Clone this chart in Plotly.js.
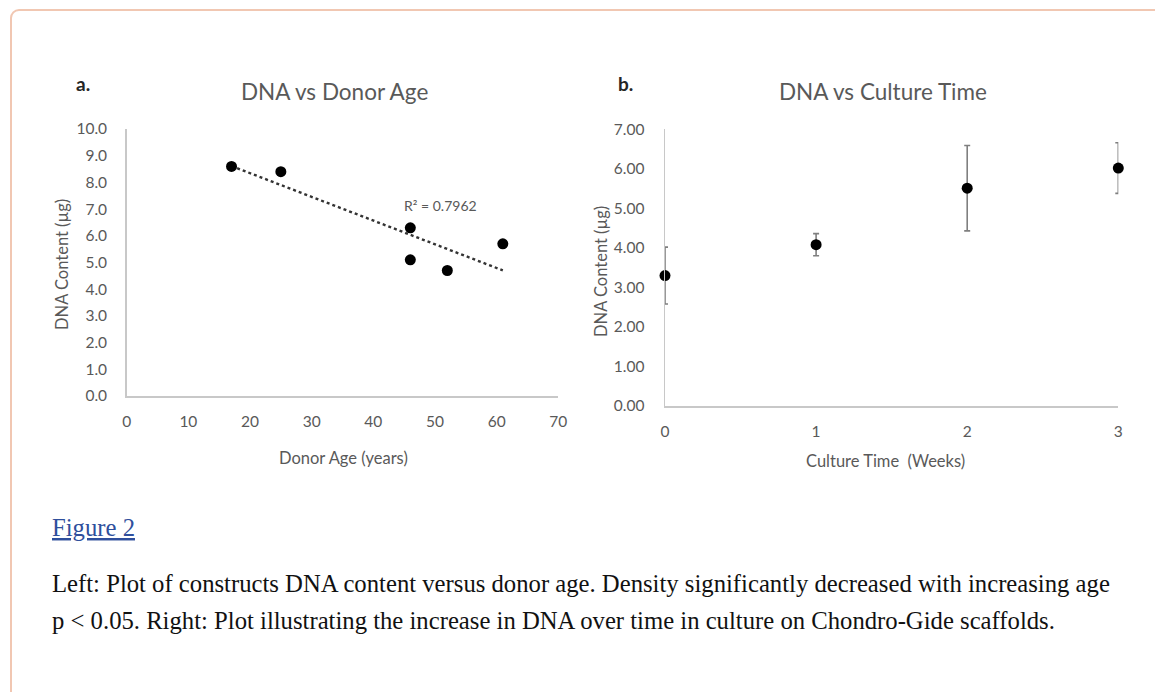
<!DOCTYPE html>
<html>
<head>
<meta charset="utf-8">
<script src="https://cdn.plot.ly/plotly-3.0.1.min.js"></script>
<style>
  html, body { margin: 0; padding: 0; width: 1155px; height: 692px; overflow: hidden; background: #ffffff; }
  #frame { position: absolute; left: 10px; top: 9px; width: 1200px; height: 800px;
           border: 2px solid #f1c7b2; border-radius: 9px; box-sizing: border-box; }
  #chart { position: absolute; left: 0; top: 0; width: 1155px; height: 692px; }
</style>
</head>
<body>
<div id="frame"></div>
<div id="chart"></div>
<script>
// ---- Panel a: DNA vs Donor Age ----
const donorAge = [17, 25, 46, 46, 52, 61];
const dnaByAge = [8.6, 8.4, 6.3, 5.1, 4.7, 5.7];
const r2Label = "R² = 0.7962";

// ---- Panel b: DNA vs Culture Time ----
const cultureWeeks = [0, 1, 2, 3];
const dnaByWeek = [3.3, 4.08, 5.51, 6.02];
const dnaErr = [0.72, 0.28, 1.08, 0.64];

// ---- Text ----
const titleA = "DNA vs Donor Age";
const titleB = "DNA vs Culture Time";
const yTitle = "DNA Content (µg)";
const xTitleA = "Donor Age (years)";
const xTitleB = "Culture Time  (Weeks)";
const figLink = "Figure 2";
const captionLine1 = "Left: Plot of constructs DNA content versus donor age. Density significantly decreased with increasing age";
const captionLine2 = "p < 0.05. Right: Plot illustrating the increase in DNA over time in culture on Chondro-Gide scaffolds.";

// least-squares trendline computed from panel a data
function linFit(xs, ys) {
  const n = xs.length;
  const mx = xs.reduce((a, b) => a + b, 0) / n;
  const my = ys.reduce((a, b) => a + b, 0) / n;
  let sxy = 0, sxx = 0;
  for (let i = 0; i < n; i++) { sxy += (xs[i] - mx) * (ys[i] - my); sxx += (xs[i] - mx) ** 2; }
  const slope = sxy / sxx;
  return { slope, intercept: my - slope * mx };
}
const fit = linFit(donorAge, dnaByAge);
const trendX = [Math.min(...donorAge), Math.max(...donorAge)];
const trendY = trendX.map(x => fit.intercept + fit.slope * x);

const W = 1155, H = 692;
const px = x => x / W;
const py = y => 1 - y / H;

const gray = '#595959';
const sans = 'Lato, "Open Sans", sans-serif';
const serif = '"Liberation Serif", "Times New Roman", serif';
const tickFont = { family: sans, size: 15.5, color: gray };

const traces = [
  { x: trendX, y: trendY, type: 'scatter', mode: 'lines', xaxis: 'x', yaxis: 'y',
    line: { color: '#333333', width: 2.4, dash: 'dot' }, hoverinfo: 'skip', showlegend: false },
  { x: donorAge, y: dnaByAge, type: 'scatter', mode: 'markers', xaxis: 'x', yaxis: 'y',
    marker: { color: '#000000', size: 11 }, cliponaxis: false, showlegend: false },
  { x: cultureWeeks, y: dnaByWeek, type: 'scatter', mode: 'markers', xaxis: 'x2', yaxis: 'y2',
    marker: { color: '#000000', size: 11 }, cliponaxis: false, showlegend: false,
    error_y: { type: 'data', array: dnaErr, visible: true, color: '#7f7f7f', thickness: 1.6, width: 3 } }
];

const axisCommon = {
  showgrid: false, zeroline: false, showline: true, linecolor: '#c8c8c8', linewidth: 1.5,
  ticks: '', tickfont: tickFont, fixedrange: true
};

function ann(text, x, y, font, extra) {
  return Object.assign({ text, xref: 'paper', yref: 'paper', x: px(x), y: py(y),
    xanchor: 'center', yanchor: 'middle', showarrow: false, font }, extra || {});
}

const layout = {
  width: W, height: H,
  margin: { l: 0, r: 0, t: 0, b: 0 },
  paper_bgcolor: 'rgba(0,0,0,0)', plot_bgcolor: 'rgba(0,0,0,0)',
  showlegend: false,
  xaxis: Object.assign({}, axisCommon, {
    domain: [px(126.7), px(558.3)], range: [0, 70], tickvals: [0, 10, 20, 30, 40, 50, 60, 70],
    ticklabelstandoff: 11, anchor: 'y'
  }),
  yaxis: Object.assign({}, axisCommon, {
    domain: [py(396), py(129)], range: [0, 10], tickvals: [0,1,2,3,4,5,6,7,8,9,10],
    tickformat: '.1f', ticklabelstandoff: 15, anchor: 'x'
  }),
  xaxis2: Object.assign({}, axisCommon, {
    domain: [px(665), px(1118.3)], range: [0, 3], tickvals: [0, 1, 2, 3],
    ticklabelstandoff: 11, anchor: 'y2'
  }),
  yaxis2: Object.assign({}, axisCommon, {
    domain: [py(406), py(129.3)], range: [0, 7], tickvals: [0,1,2,3,4,5,6,7],
    tickformat: '.2f', ticklabelstandoff: 16, anchor: 'x2'
  }),
  annotations: [
    ann('<b>a.</b>', 83, 83, { family: sans, size: 19, color: '#262626' }),
    ann('<b>b.</b>', 625, 83, { family: sans, size: 19, color: '#262626' }),
    ann(titleA, 334, 92, { family: sans, size: 22.5, color: gray }),
    ann(titleB, 883, 91, { family: sans, size: 22.5, color: gray }),
    ann(yTitle, 62, 265, { family: sans, size: 16.5, color: gray }, { textangle: -90 }),
    ann(yTitle, 601, 272, { family: sans, size: 16.5, color: gray }, { textangle: -90 }),
    ann(xTitleA, 343, 458, { family: sans, size: 16.5, color: gray }),
    ann(xTitleB, 885, 461, { family: sans, size: 16.5, color: gray }),
    { text: r2Label, xref: 'x', yref: 'y', x: 50.9, y: 7.12, xanchor: 'center', yanchor: 'middle',
      showarrow: false, font: { family: sans, size: 14, color: gray } },
    ann('<u>' + figLink + '</u>', 50, 527, { family: serif, size: 24.7, color: '#2f4f9c' }, { xanchor: 'left' }),
    ann(captionLine1, 50, 583, { family: serif, size: 24.7, color: '#111111' }, { xanchor: 'left' }),
    ann(captionLine2, 50, 620, { family: serif, size: 24.7, color: '#111111' }, { xanchor: 'left' })
  ]
};

Plotly.newPlot('chart', traces, layout, { staticPlot: true, displayModeBar: false });
</script>
</body>
</html>
